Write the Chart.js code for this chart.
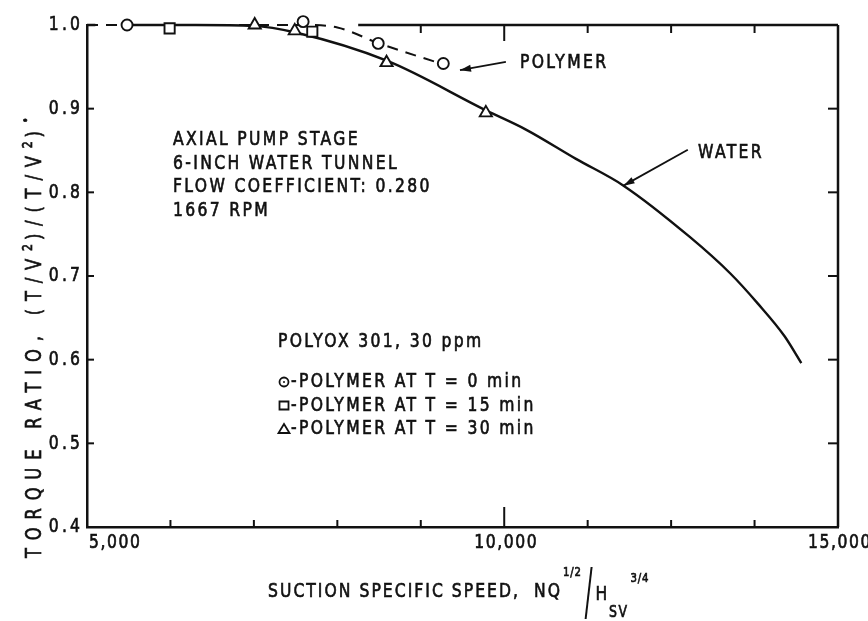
<!DOCTYPE html>
<html>
<head>
<meta charset="utf-8">
<script src="https://cdn.jsdelivr.net/npm/chart.js@4.4.1/dist/chart.umd.min.js"></script>
<style>
  html, body { margin: 0; padding: 0; background: #fff; }
</style>
</head>
<body>
<canvas id="torque" width="868" height="621"></canvas>
<script>
// Torque ratio vs. suction specific speed, axial pump stage (water vs. Polyox)
const waterX   = [5480, 6300, 7000, 7500, 8600, 9780, 10260, 10860, 11430, 12220, 12710, 13040, 13360, 13560];
const waterY   = [1.0, 1.0, 0.999, 0.991, 0.957, 0.898, 0.875, 0.840, 0.808, 0.747, 0.703, 0.667, 0.628, 0.596];
const polymerX = [5000, 6000, 7000, 7600, 8000, 8500, 9270];
const polymerY = [1.0, 1.0, 1.0, 1.0, 0.997, 0.978, 0.953];

const t0X  = [5480, 6290, 7590, 8490, 9270];
const t0Y  = [1.0, 1.009, 1.004, 0.978, 0.954];
const t15X = [5990, 7700];
const t15Y = [0.996, 0.992];
const t30X = [7010, 7490, 8590, 9780];
const t30Y = [1.0, 0.993, 0.955, 0.895];

const xTicks      = [5000, 6000, 7000, 8000, 9000, 10000, 11000, 12000, 13000, 14000];
const xLabelAt    = [5000, 10000, 14000];
const xLabelText  = ['5,000', '10,000', '15,000'];
const yTicks      = [0.4, 0.5, 0.6, 0.7, 0.8, 0.9, 1.0];
const yLabelText  = ['0.4', '0.5', '0.6', '0.7', '0.8', '0.9', '1.0'];

const notes = ['AXIAL PUMP STAGE', '6-INCH WATER TUNNEL', 'FLOW COEFFICIENT: 0.280', '1667 RPM'];
const legendTitle = 'POLYOX 301, 30 ppm';
const legendText  = ['-POLYMER AT T = 0 min', '-POLYMER AT T = 15 min', '-POLYMER AT T = 30 min'];

const FONT = '"DejaVu Sans", sans-serif';
const SQUEEZE = 0.78;   // lettering is narrow, squash glyphs horizontally
const INK = '#111';

function pts(xs, ys) {
  return xs.map(function(x, i) { return { x: x, y: ys[i] }; });
}

function markerSet(label, xs, ys, style, r) {
  return {
    type: 'scatter', label: label, data: pts(xs, ys),
    pointStyle: style, pointRadius: r, pointBorderWidth: 1.9,
    pointBackgroundColor: '#fff', pointBorderColor: INK, clip: false
  };
}

function seg(ctx, x1, y1, x2, y2) {
  ctx.beginPath(); ctx.moveTo(x1, y1); ctx.lineTo(x2, y2); ctx.stroke();
}

// draws a run of condensed text, returns the x where the next run starts
function run(ctx, str, x, y, size, spacing, align) {
  ctx.font = size + 'px ' + FONT;
  ctx.letterSpacing = (spacing || 0) + 'px';
  ctx.textBaseline = 'middle';
  ctx.textAlign = 'left';
  const w = ctx.measureText(str).width * SQUEEZE;
  let x0 = x;
  if (align === 'right') x0 = x - w;
  else if (align === 'center') x0 = x - w / 2;
  ctx.save();
  ctx.translate(x0, y);
  ctx.scale(SQUEEZE, 1);
  ctx.lineWidth = 0.7;
  ctx.fillText(str, 0, 0);
  ctx.strokeText(str, 0, 0);
  ctx.restore();
  return x0 + w;
}

function arrow(ctx, x1, y1, x2, y2) {
  seg(ctx, x1, y1, x2, y2);
  const ang = Math.atan2(y2 - y1, x2 - x1);
  const len = 11, half = 3.5;
  ctx.beginPath();
  ctx.moveTo(x2, y2);
  ctx.lineTo(x2 - len * Math.cos(ang) + half * Math.sin(ang), y2 - len * Math.sin(ang) - half * Math.cos(ang));
  ctx.lineTo(x2 - len * Math.cos(ang) - half * Math.sin(ang), y2 - len * Math.sin(ang) + half * Math.cos(ang));
  ctx.closePath();
  ctx.fill();
}

function symbol(ctx, style, x, y) {
  ctx.lineWidth = 1.8;
  ctx.beginPath();
  if (style === 'circle') {
    ctx.arc(x, y, 4.5, 0, Math.PI * 2);
    ctx.stroke();
    ctx.beginPath(); ctx.arc(x, y, 1, 0, Math.PI * 2); ctx.fill();
    return;
  }
  if (style === 'rect') { ctx.rect(x - 4.5, y - 4, 9, 8); ctx.stroke(); return; }
  ctx.moveTo(x, y - 5); ctx.lineTo(x + 5.5, y + 4); ctx.lineTo(x - 5.5, y + 4); ctx.closePath();
  ctx.stroke();
}

const paperMarks = {
  id: 'paperMarks',
  afterDraw: function(chart) {
    const ctx = chart.ctx, xs = chart.scales.x, ys = chart.scales.y, a = chart.chartArea;
    ctx.save();
    ctx.strokeStyle = INK; ctx.fillStyle = INK; ctx.lineCap = 'butt';

    // right edge and the open top edge
    ctx.lineWidth = 2.5;
    seg(ctx, a.right, a.top, a.right, a.bottom);
    seg(ctx, xs.getPixelForValue(8250), a.top, a.right, a.top);
    seg(ctx, a.left, a.top, xs.getPixelForValue(5100), a.top);

    // inward tick marks
    ctx.lineWidth = 2;
    xTicks.forEach(function(v) {
      if (v === 5000 || v === 14000) return;
      const px = xs.getPixelForValue(v);
      seg(ctx, px, a.bottom, px, a.bottom - (v === 10000 ? 20 : 7));
      if (v >= 9000) seg(ctx, px, a.top, px, a.top + (v === 10000 ? 16 : 8));
    });
    yTicks.forEach(function(v) {
      if (v === 0.4 || v === 1.0) return;
      const py = ys.getPixelForValue(v);
      seg(ctx, a.left, py, a.left + 7, py);
      seg(ctx, a.right, py, a.right - 10, py);
    });

    // tick labels
    yTicks.forEach(function(v, i) {
      run(ctx, yLabelText[i], a.left - 4, ys.getPixelForValue(v), 20, 4, 'right');
    });
    xLabelAt.forEach(function(v, i) {
      const px = xs.getPixelForValue(v);
      if (i === 0) run(ctx, xLabelText[i], px + 2, a.bottom + 16, 20, 2, 'left');
      else run(ctx, xLabelText[i], px + 2, a.bottom + 16, 20, 2, 'center');
    });

    // x title with exponents
    let p = run(ctx, 'SUCTION SPECIFIC SPEED,  NQ', 268, 592, 20, 2.6);
    p = run(ctx, '1/2', p + 1, 573, 13, 1);
    ctx.lineWidth = 2;
    seg(ctx, p + 10, 567, p + 4, 619);
    p = run(ctx, 'H', p + 14, 595, 20, 2);
    p = run(ctx, 'SV', p, 613, 16, 2);
    run(ctx, '3/4', p + 2, 579, 13, 1);

    // y title, rotated
    ctx.save();
    ctx.translate(36, 558);
    ctx.rotate(-Math.PI / 2);
    let q = run(ctx, 'TORQUE RATIO, (T/V', 0, 0, 21, 10);
    q = run(ctx, '2', q, -8, 14, 5);
    q = run(ctx, ')/(T/V', q, 0, 21, 10);
    q = run(ctx, '2', q, -8, 14, 5);
    q = run(ctx, ')', q, 0, 21, 10);
    run(ctx, '•', q, -9, 13, 0);
    ctx.restore();

    // test conditions
    notes.forEach(function(s, i) { run(ctx, s, 173, 140 + i * 23.5, 20, 3); });

    // symbol key
    run(ctx, legendTitle, 278, 342, 20, 3);
    ['circle', 'rect', 'triangle'].forEach(function(st, i) {
      const y = 382 + i * 23.5;
      symbol(ctx, st, 284, y);
      run(ctx, legendText[i], 291, y, 20, 3);
    });

    // curve call-outs
    run(ctx, 'POLYMER', 520, 63, 20, 3);
    run(ctx, 'WATER', 698, 153, 20, 3);
    ctx.lineWidth = 1.8;
    arrow(ctx, xs.getPixelForValue(10020), ys.getPixelForValue(0.956),
               xs.getPixelForValue(9470), ys.getPixelForValue(0.946));
    arrow(ctx, xs.getPixelForValue(12200), ys.getPixelForValue(0.851),
               xs.getPixelForValue(11430), ys.getPixelForValue(0.808));

    ctx.restore();
  }
};

new Chart(document.getElementById('torque'), {
  type: 'scatter',
  data: {
    datasets: [
      markerSet('T = 0 min', t0X, t0Y, 'circle', 5.5),
      markerSet('T = 15 min', t15X, t15Y, 'rect', 7.2),
      markerSet('T = 30 min', t30X, t30Y, 'triangle', 7),
      {
        type: 'line', label: 'Water', data: pts(waterX, waterY),
        borderColor: INK, borderWidth: 2.4, pointRadius: 0,
        cubicInterpolationMode: 'monotone', clip: false
      },
      {
        type: 'line', label: 'Polymer', data: pts(polymerX, polymerY),
        borderColor: INK, borderWidth: 2, borderDash: [11, 8], pointRadius: 0,
        cubicInterpolationMode: 'monotone', clip: false
      }
    ]
  },
  options: {
    responsive: false,
    animation: false,
    devicePixelRatio: 1,
    layout: { padding: { left: 87, right: 30, top: 25, bottom: 94 } },
    plugins: { legend: { display: false }, tooltip: { enabled: false } },
    scales: {
      x: {
        type: 'linear', min: 5000, max: 14000,
        ticks: { display: false }, grid: { display: false },
        border: { display: true, color: INK, width: 2.5 },
        afterFit: function(s) { s.height = 0; }
      },
      y: {
        type: 'linear', min: 0.4, max: 1.0,
        ticks: { display: false }, grid: { display: false },
        border: { display: true, color: INK, width: 2.5 },
        afterFit: function(s) { s.width = 0; }
      }
    }
  },
  plugins: [paperMarks]
});
</script>
</body>
</html>
